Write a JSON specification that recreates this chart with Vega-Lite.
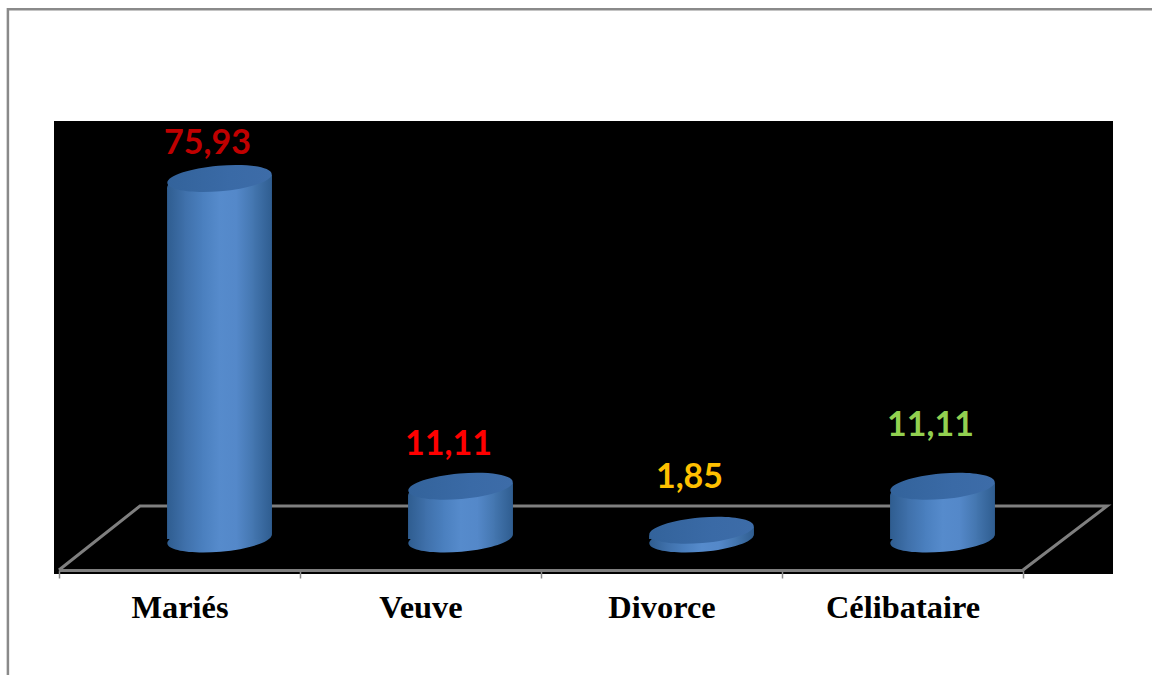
{
  "$schema": "https://vega.github.io/schema/vega-lite/v6.json",
  "width": 1059,
  "height": 453,
  "autosize": {"type": "none"},
  "padding": {"left": 54, "top": 121, "right": 39, "bottom": 101},
  "background": "#ffffff",
  "config": {"view": {"fill": "#000000", "stroke": null}},
  "data": {
    "values": [
      {"statut": "Mariés", "rang": 0, "pct": 75.93, "texte": "75,93"},
      {"statut": "Veuve", "rang": 1, "pct": 11.11, "texte": "11,11"},
      {"statut": "Divorce", "rang": 2, "pct": 1.85, "texte": "1,85"},
      {"statut": "Célibataire", "rang": 3, "pct": 11.11, "texte": "11,11"}
    ]
  },
  "layer": [
    {
      "data": {"values": [
        {"u": -0.878, "v": -29.7, "n": 1},
        {"u": -0.878, "v": 111.6, "n": 2},
        {"u": 3.903, "v": 111.6, "n": 3}
      ]},
      "mark": {"type": "line", "stroke": "#8a8a8a", "strokeWidth": 2.5, "clip": false},
      "encoding": {
        "x": {
          "field": "u", "type": "quantitative", "title": null,
          "scale": {"domain": [-0.666, 3.334], "range": [5, 969], "nice": false, "zero": false, "padding": 0},
          "axis": {
            "orient": "bottom", "offset": -4, "values": [-0.666, 0.334, 1.334, 2.334, 3.334],
            "labelExpr": "datum.value < 0 ? 'Mariés' : datum.value < 1 ? 'Veuve' : datum.value < 2 ? 'Divorce' : datum.value < 3 ? 'Célibataire' : ''",
            "labelOffset": 120.5, "labelAngle": 0, "labelAlign": "center", "labelOverlap": false, "labelBound": false, "labelFlush": false,
            "domainColor": "#7f7f7f", "domainWidth": 3,
            "tickColor": "#8a8a8a", "tickWidth": 1.5, "tickSize": 8,
            "labelColor": "#000000", "labelFont": "Liberation Serif", "labelFontWeight": "bold", "labelFontSize": 32.4,
            "labelPadding": 13, "grid": false
          }
        },
        "y": {"field": "v", "type": "quantitative", "title": null, "axis": null, "scale": {"domain": [-7.37, 88.04], "nice": false, "zero": false}},
        "order": {"field": "n", "type": "quantitative"}
      }
    },
    {
      "data": {"values": [
        {"u": -0.666, "v": -6.53, "n": 1},
        {"u": -0.33, "v": 6.95, "n": 2},
        {"u": 3.683, "v": 6.95, "n": 3},
        {"u": 3.334, "v": -6.53, "n": 4}
      ]},
      "mark": {"type": "line", "stroke": "#7f7f7f", "strokeWidth": 3, "clip": false},
      "encoding": {
        "x": {"field": "u", "type": "quantitative"},
        "y": {"field": "v", "type": "quantitative"},
        "order": {"field": "n", "type": "quantitative"}
      }
    },
    {
      "data": {"values": [
        {"rang": 0, "socle": 0},
        {"rang": 1, "socle": 0},
        {"rang": 2, "socle": 0},
        {"rang": 3, "socle": 0}
      ]},
      "mark": {"type": "point", "filled": true, "opacity": 1, "size": 10980,
        "shape": "M.996,-.087C1.008,.047,.571,.196,.021,.244C-.529,.292,-.984,.221,-.996,.087C-1.008,-.047,-.571,-.196,-.021,-.244C.529,-.292,.984,-.221,.996,-.087Z",
        "fill": {"gradient": "linear", "x1": 0, "y1": 0, "x2": 1, "y2": 0, "stops": [
          {"offset": 0, "color": "#2f5d90"},
          {"offset": 0.167, "color": "#3f70aa"},
          {"offset": 0.333, "color": "#4a7fbe"},
          {"offset": 0.5, "color": "#568bcc"},
          {"offset": 0.667, "color": "#5488c9"},
          {"offset": 0.833, "color": "#4375ae"},
          {"offset": 1, "color": "#2f5d90"}
        ]}
      },
      "encoding": {
        "x": {"field": "rang", "type": "quantitative"},
        "y": {"field": "socle", "type": "quantitative"}
      }
    },
    {
      "mark": {"type": "bar", "size": 18.3, "xOffset": -43.3, "yOffset": 3.8, "y2Offset": 3.8, "cornerRadiusTopLeft": 6,
        "fill": {"gradient": "linear", "x1": 0, "y1": 0, "x2": 1, "y2": 0, "stops": [{"offset": 0, "color": "#2f5d90"}, {"offset": 1, "color": "#3f70aa"}]}},
      "encoding": {"x": {"field": "rang", "type": "quantitative"}, "y": {"field": "pct", "type": "quantitative", "stack": null}}
    },
    {
      "mark": {"type": "bar", "size": 18.3, "xOffset": -26, "yOffset": 2.3, "y2Offset": 2.3,
        "fill": {"gradient": "linear", "x1": 0, "y1": 0, "x2": 1, "y2": 0, "stops": [{"offset": 0, "color": "#3f70aa"}, {"offset": 1, "color": "#4a7fbe"}]}},
      "encoding": {"x": {"field": "rang", "type": "quantitative"}, "y": {"field": "pct", "type": "quantitative", "stack": null}}
    },
    {
      "mark": {"type": "bar", "size": 18.3, "xOffset": -8.67, "yOffset": 0.75, "y2Offset": 0.75,
        "fill": {"gradient": "linear", "x1": 0, "y1": 0, "x2": 1, "y2": 0, "stops": [{"offset": 0, "color": "#4a7fbe"}, {"offset": 1, "color": "#568bcc"}]}},
      "encoding": {"x": {"field": "rang", "type": "quantitative"}, "y": {"field": "pct", "type": "quantitative", "stack": null}}
    },
    {
      "mark": {"type": "bar", "size": 18.3, "xOffset": 8.67, "yOffset": -0.75, "y2Offset": -0.75,
        "fill": {"gradient": "linear", "x1": 0, "y1": 0, "x2": 1, "y2": 0, "stops": [{"offset": 0, "color": "#568bcc"}, {"offset": 1, "color": "#5488c9"}]}},
      "encoding": {"x": {"field": "rang", "type": "quantitative"}, "y": {"field": "pct", "type": "quantitative", "stack": null}}
    },
    {
      "mark": {"type": "bar", "size": 18.3, "xOffset": 26, "yOffset": -2.3, "y2Offset": -2.3,
        "fill": {"gradient": "linear", "x1": 0, "y1": 0, "x2": 1, "y2": 0, "stops": [{"offset": 0, "color": "#5488c9"}, {"offset": 1, "color": "#4375ae"}]}},
      "encoding": {"x": {"field": "rang", "type": "quantitative"}, "y": {"field": "pct", "type": "quantitative", "stack": null}}
    },
    {
      "mark": {"type": "bar", "size": 18.3, "xOffset": 43.3, "yOffset": -3.8, "y2Offset": -3.8, "cornerRadiusBottomRight": 6,
        "fill": {"gradient": "linear", "x1": 0, "y1": 0, "x2": 1, "y2": 0, "stops": [{"offset": 0, "color": "#4375ae"}, {"offset": 1, "color": "#2f5d90"}]}},
      "encoding": {"x": {"field": "rang", "type": "quantitative"}, "y": {"field": "pct", "type": "quantitative", "stack": null}}
    },
    {
      "mark": {"type": "point", "filled": true, "opacity": 1, "size": 10980,
        "shape": "M.996,-.087C1.008,.047,.571,.196,.021,.244C-.529,.292,-.984,.221,-.996,.087C-1.008,-.047,-.571,-.196,-.021,-.244C.529,-.292,.984,-.221,.996,-.087Z",
        "fill": {"gradient": "linear", "x1": 0, "y1": 0, "x2": 1, "y2": 0, "stops": [
          {"offset": 0, "color": "#33639b"},
          {"offset": 0.6, "color": "#3a6aa6"},
          {"offset": 1, "color": "#3d6ca8"}
        ]}
      },
      "encoding": {
        "x": {"field": "rang", "type": "quantitative"},
        "y": {"field": "pct", "type": "quantitative"}
      }
    },
    {
      "transform": [{"filter": "datum.rang === 0"}],
      "mark": {"type": "text", "font": "Lato", "fontWeight": "bold", "fontSize": 34, "color": "#c00000", "dx": -12, "dy": -34, "baseline": "middle"},
      "encoding": {
        "x": {"field": "rang", "type": "quantitative"},
        "y": {"field": "pct", "type": "quantitative"},
        "text": {"field": "texte"}
      }
    },
    {
      "transform": [{"filter": "datum.rang === 1"}],
      "mark": {"type": "text", "font": "Lato", "fontWeight": "bold", "fontSize": 34, "color": "#ff0000", "dx": -12, "dy": -41, "baseline": "middle"},
      "encoding": {
        "x": {"field": "rang", "type": "quantitative"},
        "y": {"field": "pct", "type": "quantitative"},
        "text": {"field": "texte"}
      }
    },
    {
      "transform": [{"filter": "datum.rang === 2"}],
      "mark": {"type": "text", "font": "Lato", "fontWeight": "bold", "fontSize": 34, "color": "#ffc000", "dx": -12, "dy": -52, "baseline": "middle"},
      "encoding": {
        "x": {"field": "rang", "type": "quantitative"},
        "y": {"field": "pct", "type": "quantitative"},
        "text": {"field": "texte"}
      }
    },
    {
      "transform": [{"filter": "datum.rang === 3"}],
      "mark": {"type": "text", "font": "Lato", "fontWeight": "bold", "fontSize": 34, "color": "#92d050", "dx": -12, "dy": -60, "baseline": "middle"},
      "encoding": {
        "x": {"field": "rang", "type": "quantitative"},
        "y": {"field": "pct", "type": "quantitative"},
        "text": {"field": "texte"}
      }
    }
  ]
}
